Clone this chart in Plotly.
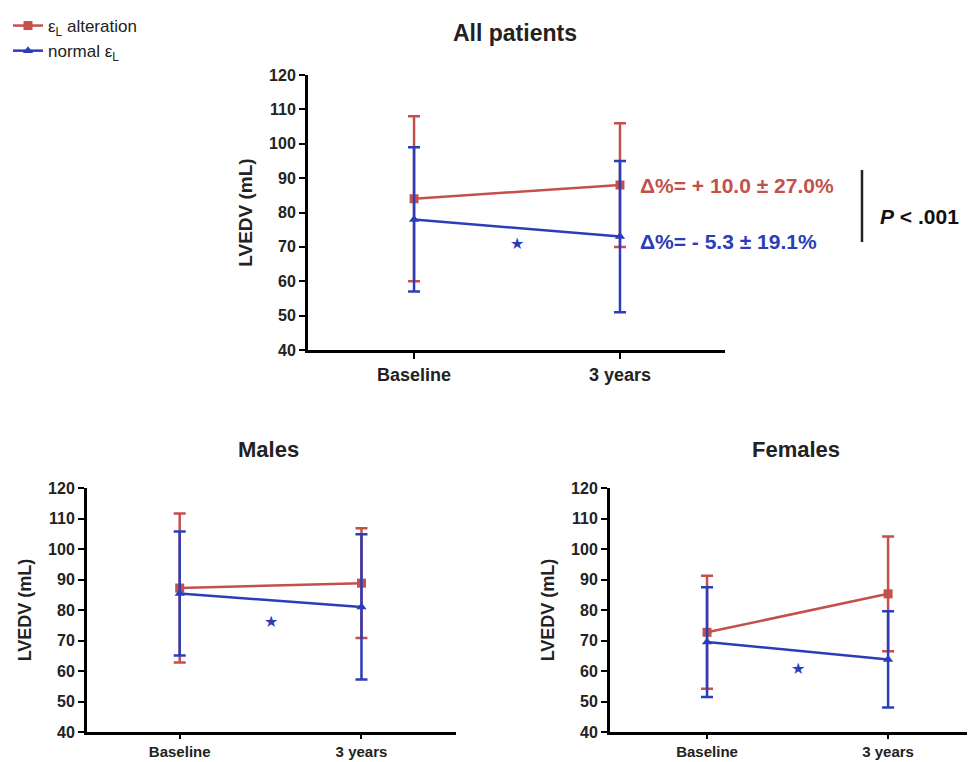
import plotly.graph_objects as go

categories = ["Baseline", "3 years"]
y_ticks = [40, 50, 60, 70, 80, 90, 100, 110, 120]

# All patients
all_alt_mean = [84, 88]
all_alt_sd = [24, 18]
all_norm_mean = [78, 73]
all_norm_sd = [21, 22]
all_star = 71

# Males
m_alt_mean = [87.2, 88.8]
m_alt_sd = [24.4, 18]
m_norm_mean = [85.4, 81]
m_norm_sd = [20.3, 23.8]
m_star = 76.2

# Females
f_alt_mean = [72.7, 85.3]
f_alt_sd = [18.5, 18.8]
f_norm_mean = [69.5, 63.8]
f_norm_sd = [18, 15.8]
f_star = 60.7

RED = "#c4504c"
BLUE = "#2b3db8"
FONT = "Liberation Sans"

OFF = 8  # page body margin
W, H = 975 - OFF, 762 - OFF

def px_x(p):
    return (p - OFF) / W

def px_y(p):
    return 1 - (p - OFF) / H

fig = go.Figure()

panels = [
    ("x", "y", all_alt_mean, all_alt_sd, all_norm_mean, all_norm_sd, all_star, True),
    ("x2", "y2", m_alt_mean, m_alt_sd, m_norm_mean, m_norm_sd, m_star, False),
    ("x3", "y3", f_alt_mean, f_alt_sd, f_norm_mean, f_norm_sd, f_star, False),
]

xpos = [0, 1]
for xa, ya, am, asd, nm, nsd, star, show in panels:
    fig.add_trace(go.Scatter(
        x=xpos, y=am, xaxis=xa, yaxis=ya, mode="lines+markers",
        name="ε<sub>L</sub> alteration", showlegend=show, legendgroup="alt",
        line=dict(color=RED, width=2.5),
        marker=dict(symbol="square", size=9, color=RED),
        error_y=dict(type="data", array=asd, visible=True, color=RED, thickness=2.5, width=6),
    ))
    fig.add_trace(go.Scatter(
        x=xpos, y=nm, xaxis=xa, yaxis=ya, mode="lines+markers",
        name="normal ε<sub>L</sub>", showlegend=show, legendgroup="norm",
        line=dict(color=BLUE, width=2.5),
        marker=dict(symbol="triangle-up", size=9, color=BLUE),
        error_y=dict(type="data", array=nsd, visible=True, color=BLUE, thickness=2.5, width=6),
    ))
    fig.add_annotation(x=0.5, y=star, xref=xa, yref=ya, text="★", showarrow=False,
                       font=dict(color=BLUE, size=16, family="DejaVu Sans"))

axis_common = dict(
    showline=True, linecolor="black", linewidth=3, ticks="outside",
    tickwidth=2, tickcolor="black", showgrid=False, zeroline=False,
    automargin=False,
)

def xaxis(domain, rng, anchor, size, tl):
    return dict(domain=domain, range=rng, anchor=anchor, tickvals=xpos, ticktext=categories,
                ticklen=tl,
                tickfont=dict(family=FONT, size=size, color="#222", weight="bold"), **axis_common)

def yaxis(domain, anchor, size, tsize):
    return dict(domain=domain, range=[40, 120], anchor=anchor, tickvals=y_ticks, ticklen=6,
                tickfont=dict(family=FONT, size=size, color="#222", weight="bold"),
                title=dict(text="LVEDV (mL)", font=dict(family=FONT, size=tsize, color="#222", weight="bold"), standoff=12),
                **axis_common)

fig.update_layout(
    width=W, height=H, margin=dict(l=0, r=0, t=0, b=0, autoexpand=False),
    plot_bgcolor="white", paper_bgcolor="white",
    xaxis=xaxis([px_x(308), px_x(725)], [-0.515, 1.51], "y", 18, 6),
    yaxis=yaxis([px_y(350), px_y(75)], "x", 16, 19),
    xaxis2=xaxis([px_x(87), px_x(456)], [-0.51, 1.52], "y2", 15, 4),
    yaxis2=yaxis([px_y(732), px_y(488)], "x2", 16, 18),
    xaxis3=xaxis([px_x(610), px_x(975)], [-0.536, 1.48], "y3", 15, 4),
    yaxis3=yaxis([px_y(732), px_y(488)], "x3", 16, 18),
    legend=dict(x=0.0, y=1.0, xanchor="left", yanchor="top", bgcolor="rgba(0,0,0,0)",
                font=dict(family=FONT, size=17, color="#222"), tracegroupgap=0,
                itemwidth=30),
    font=dict(family=FONT),
)

titles = [("All patients", 515, 33, 23), ("Males", 268, 450, 22), ("Females", 796, 450, 22)]
for t, xx, yy, s in titles:
    fig.add_annotation(x=px_x(xx), y=px_y(yy), xref="paper", yref="paper", text=t,
                       showarrow=False, font=dict(family=FONT, size=s, color="#222", weight="bold"),
                       xanchor="center", yanchor="middle")

fig.add_annotation(x=px_x(638), y=px_y(186), xref="paper", yref="paper",
                   text="Δ%= + 10.0 ± 27.0%", showarrow=False, xanchor="left", yanchor="middle",
                   font=dict(family=FONT, size=21, color=RED, weight="bold"))
fig.add_annotation(x=px_x(638), y=px_y(241), xref="paper", yref="paper",
                   text="Δ%= - 5.3 ± 19.1%", showarrow=False, xanchor="left", yanchor="middle",
                   font=dict(family=FONT, size=21, color=BLUE, weight="bold"))
fig.add_shape(type="line", xref="paper", yref="paper", x0=px_x(862), x1=px_x(862),
              y0=px_y(242), y1=px_y(170), line=dict(color="#222", width=2.5))
fig.add_annotation(x=px_x(878), y=px_y(216), xref="paper", yref="paper",
                   text="<i>P</i> < .001", showarrow=False, xanchor="left", yanchor="middle",
                   font=dict(family=FONT, size=21, color="#111", weight="bold"))

fig.write_html("out.html")
